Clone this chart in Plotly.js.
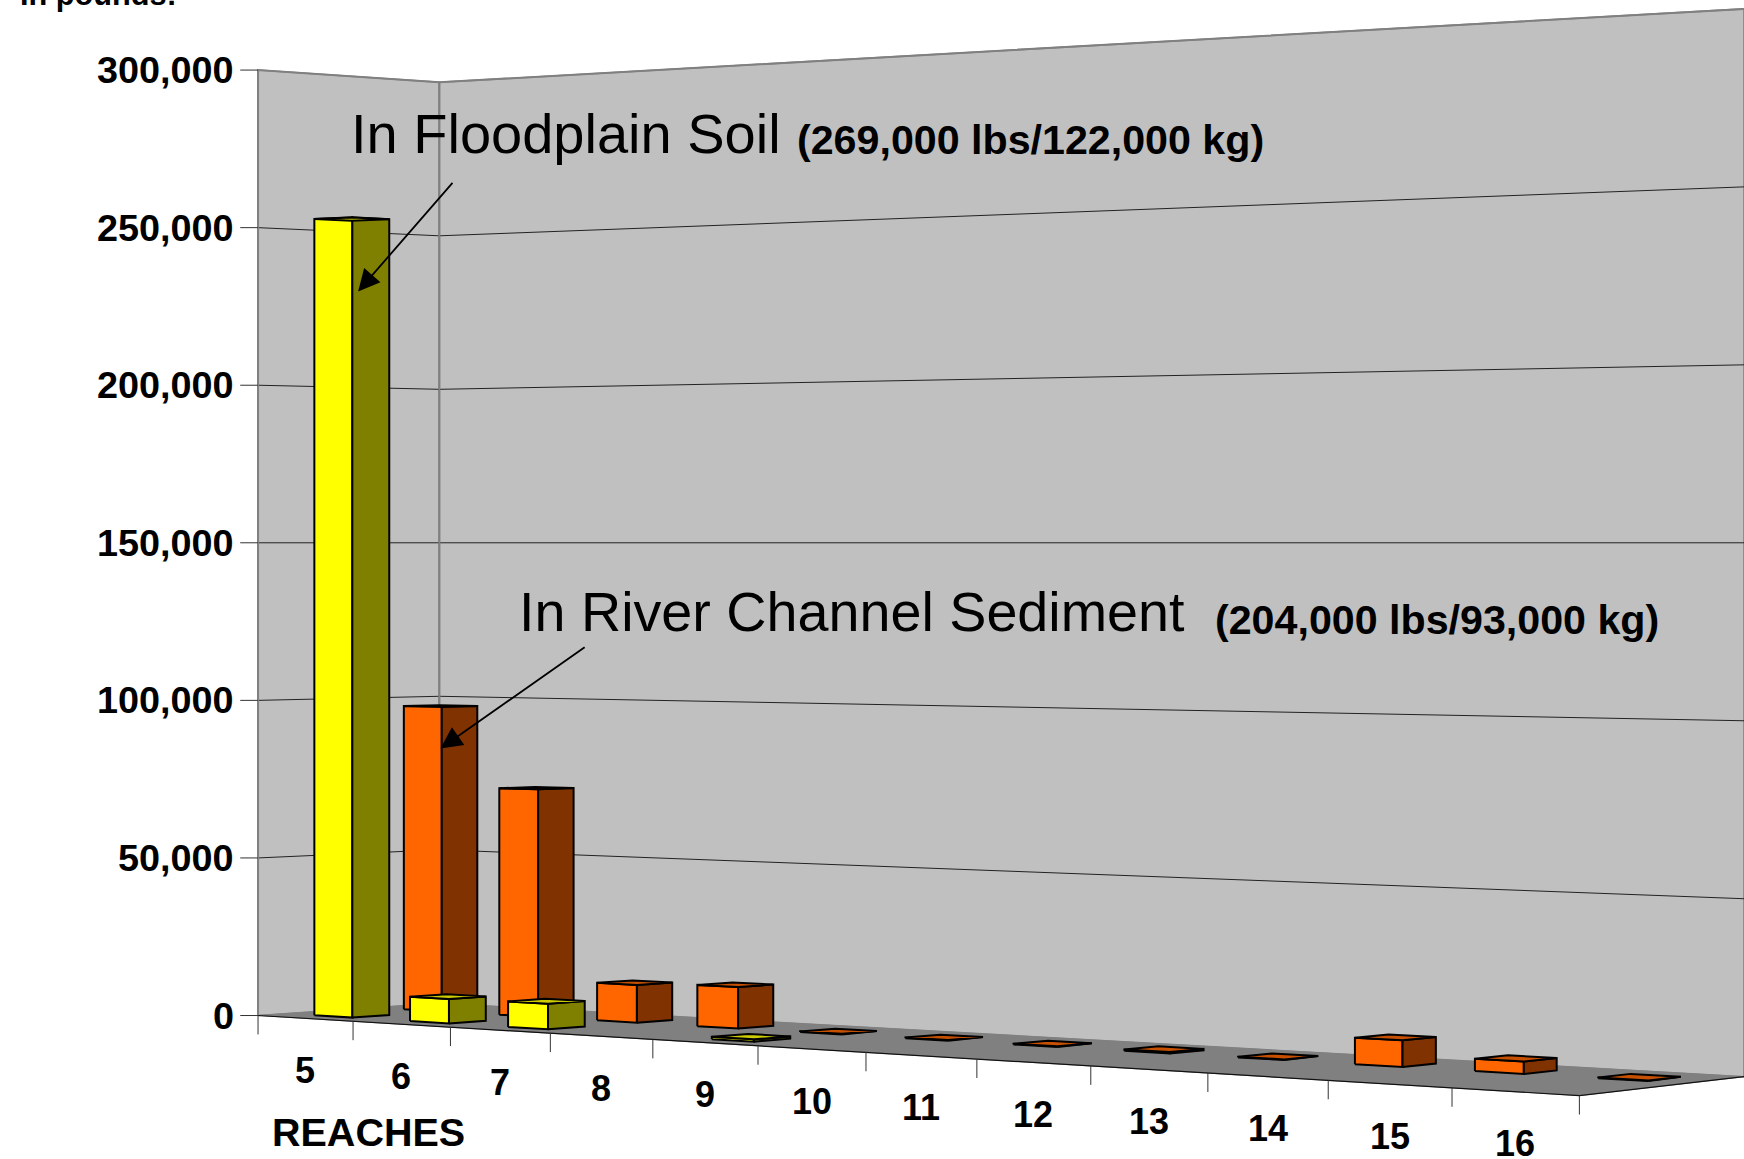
<!DOCTYPE html>
<html><head><meta charset="utf-8">
<script src="https://cdn.plot.ly/plotly-3.0.1.min.js"></script>
<style>html,body{margin:0;padding:0;background:#fff;overflow:hidden}</style>
</head><body><div id="chart" style="width:1744px;height:1159px"></div>
<script>
const reaches = ['5','6','7','8','9','10','11','12','13','14','15','16'];
const floodplainSoil = [252800, 7600, 7900, null, 700, null, null, null, null, null, null, null];
const channelSediment = [97500, 72000, 11800, 12800, 200, 200, 200, 400, 200, 7600, 3500, 200];
const valueTicks = [0, 50000, 100000, 150000, 200000, 250000, 300000];
const tickLabels = ['0','50,000','100,000','150,000','200,000','250,000','300,000'];

const FONT = 'Liberation Sans, Arial, sans-serif';
// View geometry of the pseudo-3D box, in the 1568-wide working frame
const A=[232,913], B=[1420,985], C=[1568,968], D=[395,902], HORIZON=488, MID=150000, WARP=1.07, YSPAN=1042;
const n = reaches.length;
function homography(){
  const dx1=B[0]-C[0], dx2=D[0]-C[0], sx=A[0]-B[0]+C[0]-D[0];
  const dy1=B[1]-C[1], dy2=D[1]-C[1], sy=A[1]-B[1]+C[1]-D[1];
  const det=dx1*dy2-dx2*dy1;
  const g=(sx*dy2-dx2*sy)/det, h=(dx1*sy-sx*dy1)/det;
  return [B[0]-A[0]+g*B[0], D[0]-A[0]+h*D[0], A[0], B[1]-A[1]+g*B[1], D[1]-A[1]+h*D[1], A[1], g, h];
}
const H = homography();
function proj(cat, w, v){
  const t=cat/n, u=WARP*t/(1+(WARP-1)*t), q=H[6]*u+H[7]*w+1;
  const x=(H[0]*u+H[1]*w+H[2])/q, yf=(H[3]*u+H[4]*w+H[5])/q;
  return [x, HORIZON+(yf-HORIZON)*(1-v/MID)];
}
const traces=[];
function poly(pts,fill,lineColor,lw){
  const xs=pts.map(p=>p[0]), ys=pts.map(p=>p[1]);
  xs.push(xs[0]); ys.push(ys[0]);
  traces.push({x:xs,y:ys,mode:'lines',fill:'toself',fillcolor:fill,
    line:{color:lineColor,width:lw},hoverinfo:'skip',showlegend:false});
}
function line(pts,color,lw){
  traces.push({x:pts.map(p=>p[0]),y:pts.map(p=>p[1]),mode:'lines',
    line:{color:color,width:lw},hoverinfo:'skip',showlegend:false});
}
const TOP=valueTicks[valueTicks.length-1];
// walls
poly([proj(0,0,0),proj(0,1,0),proj(0,1,TOP),proj(0,0,TOP)],'#c0c0c0','#808080',1.6);
poly([proj(0,1,0),proj(n,1,0),proj(n,1,TOP),proj(0,1,TOP)],'#c0c0c0','#808080',1.6);
// gridlines
valueTicks.slice(1,-1).forEach(v=>{
  line([proj(0,0,v),proj(0,1,v),proj(n,1,v)],'#222',1);
});
line([proj(0,0,0),proj(0,0,TOP),proj(0,1,TOP),proj(n,1,TOP)],'#808080',2);
line([proj(0,1,0),proj(0,1,TOP)],'#808080',2);
// floor
poly([proj(0,0,0),proj(n,0,0),proj(n,1,0),proj(0,1,0)],'#808080','#808080',1);
line([proj(0,0,0),proj(n,0,0),proj(n,1,0)],'#111',1.2);
// axis ticks
valueTicks.forEach(v=>{const p=proj(0,0,v); line([[p[0]-16,p[1]],p],'#333',1);});
for(let i=0;i<=n;i++){const p=proj(i,0,0); line([p,[p[0],p[1]+17]],'#333',1);}
// bars
function bar(cat,w0,w1,v,front,side,top){
  const c0=cat+0.3,c1=cat+0.7;
  const a=(c,w,h)=>proj(c,w,h);
  poly([a(c0,w0,0),a(c1,w0,0),a(c1,w0,v),a(c0,w0,v)],front,'#000',2);
  poly([a(c1,w0,0),a(c1,w1,0),a(c1,w1,v),a(c1,w0,v)],side,'#000',2);
  poly([a(c0,w0,v),a(c1,w0,v),a(c1,w1,v),a(c0,w1,v)],top,'#000',2);
}
channelSediment.forEach((v,i)=>{ if(v!=null) bar(i,0.64,0.84,v,'#ff6600','#803300','#c65000'); });
floodplainSoil.forEach((v,i)=>{ if(v!=null) bar(i,0.15,0.35,v,'#ffff00','#808000','#cccc00'); });

const annotations=[];
function txt(x,y,text,size,bold,anchor){
  annotations.push({x,y,xref:'x',yref:'y',text:bold?'<b>'+text+'</b>':text,showarrow:false,
    xanchor:anchor||'left',yanchor:'middle',font:{family:FONT,size:size,color:'#000'}});
}
valueTicks.forEach((v,i)=>{const p=proj(0,0,v); txt(212,p[1],tickLabels[i],37.8,true,'right');});
reaches.forEach((r,i)=>{const p=proj(i+0.5,0,0); txt(p[0],p[1]+47,r,36,true,'center');});
txt(331,1018,'REACHES',39.5,true,'center');
annotations.push({x:16,y:1+5/YSPAN,xref:'x',yref:'paper',text:'<b>In pounds:</b>',showarrow:false,
  xanchor:'left',yanchor:'middle',font:{family:FONT,size:30.7,color:'#000'}});
txt(314,120,'In Floodplain Soil',56,false,'left');
txt(715,126,'(269,000 lbs/122,000 kg)',41.2,true,'left');
txt(465,550,'In River Channel Sediment',55.7,false,'left');
txt(1091,557,'(204,000 lbs/93,000 kg)',41.2,true,'left');
[[408,163,322,262],[527,581,396,673]].forEach(a=>{
  annotations.push({x:a[2],y:a[3],ax:a[0],ay:a[1],xref:'x',yref:'y',axref:'x',ayref:'y',text:'',
    showarrow:true,arrowhead:2,arrowsize:2.4,arrowwidth:1.8,arrowcolor:'#000'});
});
Plotly.newPlot('chart',traces,{
  width:1744,height:1159,margin:{l:0,r:0,t:0,b:0},
  paper_bgcolor:'#fff',plot_bgcolor:'#fff',showlegend:false,
  xaxis:{range:[0,1568],visible:false,fixedrange:true},
  yaxis:{range:[YSPAN,0],visible:false,fixedrange:true},
  annotations
},{staticPlot:true,displayModeBar:false});
</script></body></html>
